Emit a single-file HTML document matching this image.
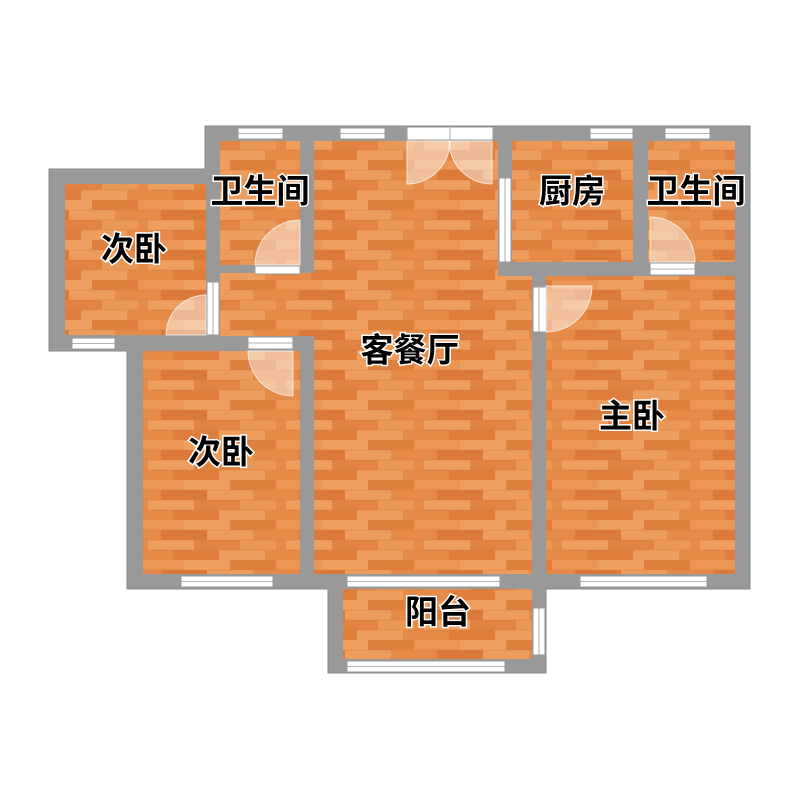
<!DOCTYPE html>
<html><head><meta charset="utf-8"><style>
html,body{margin:0;padding:0;background:#fff;width:800px;height:800px;overflow:hidden}
text{font-family:"Liberation Sans","Noto Sans CJK SC",sans-serif;font-weight:bold;font-size:33px;fill:#000;stroke:#fff;stroke-width:3px;paint-order:stroke;text-anchor:middle;dominant-baseline:central}
</style></head><body>
<svg width="800" height="800" viewBox="0 0 800 800" xmlns="http://www.w3.org/2000/svg">
<defs>
<pattern id="wood" patternUnits="userSpaceOnUse" width="138" height="40">
<rect width="138" height="40" fill="#e68a48"/>
<rect x="0" y="0" width="46" height="10" fill="#eb9655"/>
<rect x="46" y="0" width="46" height="10" fill="#efa060"/>
<rect x="92" y="0" width="46" height="10" fill="#df803f"/>
<rect x="23" y="10" width="46" height="10" fill="#dc7a3a"/>
<rect x="69" y="10" width="46" height="10" fill="#ec9c5c"/>
<rect x="115" y="10" width="23" height="10" fill="#e58a47"/>
<rect x="0" y="10" width="23" height="10" fill="#e58a47"/>
<rect x="10" y="20" width="46" height="10" fill="#ee9f5f"/>
<rect x="56" y="20" width="46" height="10" fill="#e18341"/>
<rect x="102" y="20" width="36" height="10" fill="#ea9856"/>
<rect x="35" y="30" width="46" height="10" fill="#df7e3d"/>
<rect x="81" y="30" width="46" height="10" fill="#ed9e5e"/>
<g stroke="#c9692f" stroke-width="0.6" opacity="0.5">
<line x1="0" y1="10" x2="138" y2="10"/><line x1="0" y1="20" x2="138" y2="20"/><line x1="0" y1="30" x2="138" y2="30"/><line x1="0" y1="0" x2="138" y2="0"/>
</g>
</pattern>
</defs>
<polygon points="205,126 750,126 750,589 546,589 546,673 328,673 328,589 127,589 127,351 49,351 49,169 205,169" fill="#999" stroke="#888" stroke-width="1"/>
<g fill="url(#wood)">
<rect x="65" y="184" width="141" height="151"/>
<rect x="220" y="141" width="80" height="124"/>
<rect x="220" y="273" width="94" height="63"/>
<rect x="314" y="141" width="184" height="433"/>
<rect x="498" y="276" width="34" height="298"/>
<rect x="143" y="351" width="157" height="223"/>
<rect x="512" y="141" width="121" height="121"/>
<rect x="648" y="141" width="87" height="121"/>
<rect x="546" y="276" width="189" height="298"/>
<rect x="343" y="589" width="189" height="70"/>
</g>
<g fill="#fff" stroke="#999" stroke-width="1">
<rect x="238" y="128" width="45" height="11"/>
<rect x="340" y="128" width="45" height="11"/>
<rect x="590" y="128" width="43" height="11"/>
<rect x="665" y="128" width="45" height="11"/>
<rect x="72" y="338" width="43" height="11"/>
<rect x="181" y="576" width="92" height="11"/>
<rect x="347" y="576" width="153" height="11"/>
<rect x="580" y="576" width="127" height="11"/>
<rect x="347" y="661" width="158" height="11"/>
<rect x="533" y="608" width="12" height="47"/>
<rect x="499" y="178" width="12" height="84"/>
<rect x="407" y="127" width="86" height="13"/>
<rect x="207" y="282" width="12" height="53"/>
<rect x="255" y="266" width="45" height="8"/>
<rect x="248" y="337" width="45" height="12"/>
<rect x="533" y="287" width="13" height="45"/>
<rect x="650" y="263" width="45" height="12"/>
</g>
<g stroke="#999" stroke-width="0.8">
<line x1="238" y1="133.5" x2="283" y2="133.5"/><line x1="340" y1="133.5" x2="385" y2="133.5"/>
<line x1="590" y1="133.5" x2="633" y2="133.5"/><line x1="665" y1="133.5" x2="710" y2="133.5"/>
<line x1="72" y1="343.5" x2="115" y2="343.5"/><line x1="181" y1="581.5" x2="273" y2="581.5"/>
<line x1="347" y1="581.5" x2="500" y2="581.5"/><line x1="580" y1="581.5" x2="707" y2="581.5"/>
<line x1="347" y1="666.5" x2="505" y2="666.5"/><line x1="539" y1="608" x2="539" y2="655"/>
<line x1="505" y1="178" x2="505" y2="262"/><line x1="213" y1="282" x2="213" y2="335"/>
<line x1="450" y1="127" x2="450" y2="140"/><line x1="248" y1="343" x2="293" y2="343"/>
<line x1="650" y1="269" x2="695" y2="269"/><line x1="539" y1="287" x2="539" y2="332"/>
</g>
<g fill="#fff" fill-opacity="0.45" stroke="#fff" stroke-opacity="0.7" stroke-width="1">
<path d="M300,265 L255,265 A45,45 0 0 1 300,220 Z"/>
<path d="M206,335 L166,335 A40,40 0 0 1 206,295 Z"/>
<path d="M293,351 L248,351 A45,45 0 0 0 293,396 Z"/>
<path d="M546,286 L546,332 A46,46 0 0 0 592,286 Z"/>
<path d="M650,262 L695,262 A45,45 0 0 0 650,217 Z"/>
<path d="M407,141 L407,184 A43,43 0 0 0 450,141 Z"/>
<path d="M492,141 L492,184 A43,43 0 0 1 449,141 Z"/>
</g>
<text x="260" y="191">卫生间</text>
<text x="134" y="249">次卧</text>
<text x="572" y="191">厨房</text>
<text x="696" y="191">卫生间</text>
<text x="410" y="350">客餐厅</text>
<text x="632" y="416">主卧</text>
<text x="221" y="452">次卧</text>
<text x="438" y="612">阳台</text>
</svg>
</body></html>
